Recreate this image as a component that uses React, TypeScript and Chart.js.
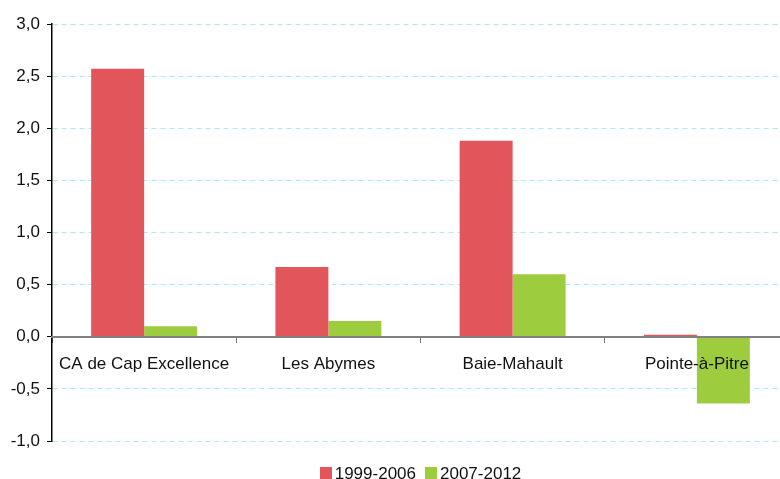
import React, { useEffect, useRef } from "react";
import { Chart, registerables } from "chart.js";

Chart.register(...registerables);

const categories = ["CA de Cap Excellence", "Les Abymes", "Baie-Mahault", "Pointe-à-Pitre"];
const series1Label = "1999-2006";
const series2Label = "2007-2012";
const series1 = [2.57, 0.67, 1.88, 0.02];
const series2 = [0.1, 0.15, 0.6, -0.64];
const yMin = -1;
const yMax = 3;
const yStep = 0.5;

const FONT = "'Liberation Sans', Arial, sans-serif";

const customLegend = {
  id: "customLegend",
  afterDraw(chart: any) {
    const ctx = chart.ctx;
    const area = chart.chartArea;
    const ds = chart.data.datasets;
    ctx.save();
    ctx.font = `17px ${FONT}`;
    const box = 12, gapText = 3, gapItem = 9;
    const widths = ds.map((d: any) => box + gapText + ctx.measureText(d.label).width);
    const total = widths.reduce((a: number, b: number) => a + b, 0) + gapItem * (ds.length - 1);
    let x = (area.left + area.right) / 2 - total / 2;
    const yBoxTop = 467;
    ds.forEach((d: any, i: number) => {
      ctx.fillStyle = d.backgroundColor;
      ctx.fillRect(Math.round(x), yBoxTop, box, box);
      ctx.fillStyle = "#111";
      ctx.textBaseline = "alphabetic";
      ctx.textAlign = "left";
      ctx.fillText(d.label, x + box + gapText, 479);
      x += widths[i] + gapItem;
    });
    ctx.restore();
  },
};

export default function App() {
  const ref = useRef<HTMLCanvasElement | null>(null);
  useEffect(() => {
    if (!ref.current) return;
    const chart = new Chart(ref.current, {
      type: "bar",
      data: {
        labels: categories,
        datasets: [
          { label: series1Label, data: series1, backgroundColor: "#E1555B", barPercentage: 1, categoryPercentage: 0.575 },
          { label: series2Label, data: series2, backgroundColor: "#9DCD3F", barPercentage: 1, categoryPercentage: 0.575 },
        ],
      },
      options: {
        animation: false,
        responsive: false,
        layout: { padding: { left: 0, right: 11, top: 24, bottom: 38 } },
        plugins: {
          tooltip: { enabled: false },
          legend: { display: false },
        },
        scales: {
          x: {
            position: { y: 0 },
            offset: true,
            grid: {
              display: true,
              drawOnChartArea: false,
              drawTicks: true,
              tickLength: 5,
              tickColor: "#777",
              offset: true,
            },
            border: { display: true, color: "#808080", width: 2, z: 1 },
            ticks: {
              color: "#111",
              padding: 12,
              font: { family: FONT, size: 17 },
              maxRotation: 0,
              autoSkip: false,
              z: 1,
            },
            afterFit: (s: any) => { s.height = 0; },
          },
          y: {
            min: yMin,
            max: yMax,
            ticks: {
              stepSize: yStep,
              color: "#111",
              padding: 7,
              font: { family: FONT, size: 17 },
              callback: (v: any) => Number(v).toFixed(1).replace(".", ","),
            },
            grid: {
              color: "#A6EBFA",
              lineWidth: 1,
              tickLength: 5,
              tickColor: "#000",
              tickBorderDash: [],
            },
            border: { display: true, color: "#000", width: 1.5, dash: [5, 4] },
            afterFit: (s: any) => { s.width = 52; },
          },
        },
      },
      plugins: [customLegend],
    });
    return () => chart.destroy();
  }, []);
  return (
    <div style={{ position: "fixed", left: 0, top: 0, width: 800, height: 479, background: "#fff" }}>
      <canvas ref={ref} width={800} height={479} style={{ display: "block" }} />
    </div>
  );
}
